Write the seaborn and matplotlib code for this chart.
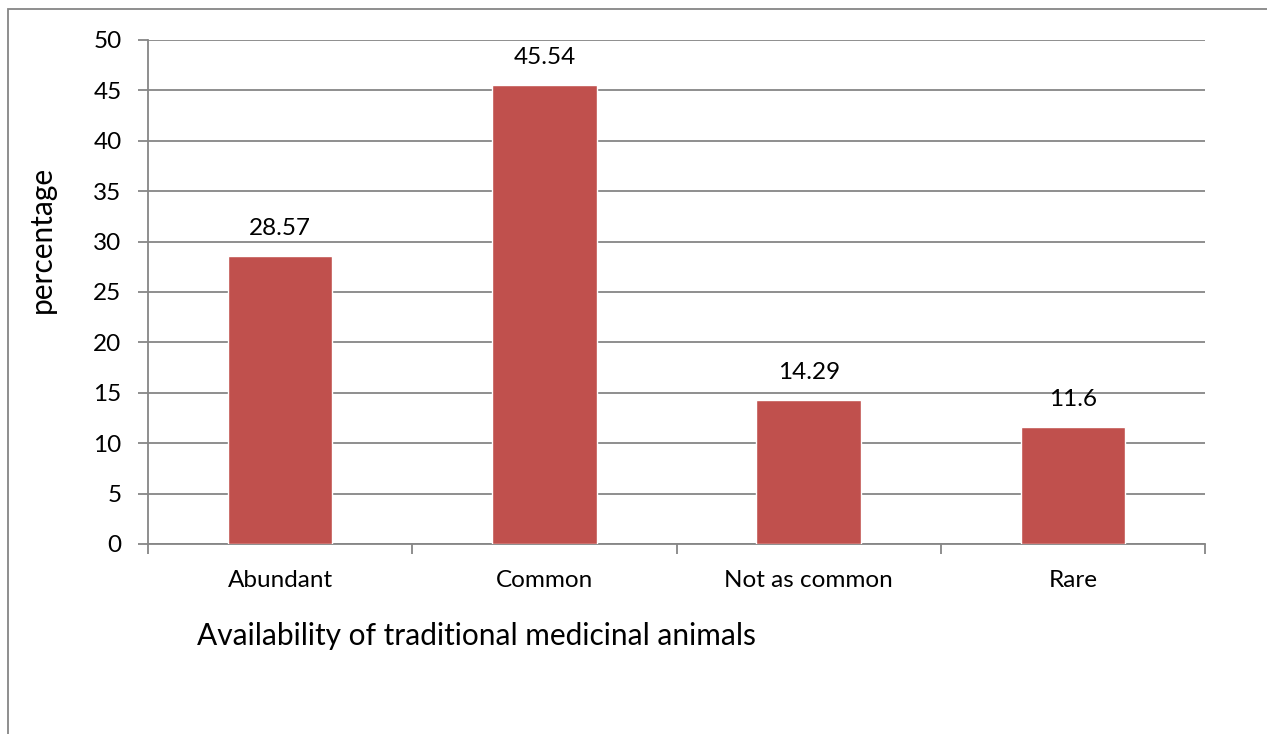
import matplotlib
matplotlib.use("Agg")
import matplotlib.pyplot as plt
import seaborn as sns
import pandas as pd
from matplotlib.patches import Rectangle

categories = ["Abundant", "Common", "Not as common", "Rare"]
values = [28.57, 45.54, 14.29, 11.6]
value_labels = ["28.57", "45.54", "14.29", "11.6"]
y_ticks = [0, 5, 10, 15, 20, 25, 30, 35, 40, 45, 50]

sns.set_theme(style="white")
plt.rcParams['font.family'] = ['Lato', 'DejaVu Sans']

W, H = 1267, 734
fig = plt.figure(figsize=(W / 100, H / 100), dpi=100)
ax = fig.add_axes([148 / W, 1 - 544 / H, (1205 - 148) / W, (544 - 40) / H])

df = pd.DataFrame({"cat": categories, "val": values})
sns.barplot(data=df, x="cat", y="val", color="#C0504D", saturation=1,
            width=0.395, ax=ax, zorder=3)

grid_c = "#868686"
ax.set_ylim(0, 50)
ax.set_xlim(-0.5, 3.5)
ax.set_yticks(y_ticks)
ax.yaxis.grid(True, color=grid_c, linewidth=1.3, zorder=0)
ax.set_axisbelow(True)
for s in ["top", "right"]:
    ax.spines[s].set_visible(False)
for s in ["left", "bottom"]:
    ax.spines[s].set_color(grid_c)
    ax.spines[s].set_linewidth(1.3)

tick_fs = 17.5
# x ticks at category boundaries, labels in between
ax.set_xticks([-0.5, 0.5, 1.5, 2.5, 3.5])
ax.set_xticklabels([])
ax.set_xticks([0, 1, 2, 3], minor=True)
ax.set_xticklabels(categories, minor=True)
ax.tick_params(axis="x", which="major", direction="out", length=7, width=1.3,
               color=grid_c, bottom=True)
ax.tick_params(axis="x", which="minor", length=0, pad=19, labelsize=tick_fs,
               labelcolor="black")
ax.tick_params(axis="y", direction="out", length=7, width=1.3, color=grid_c,
               left=True, labelsize=tick_fs, labelcolor="black", pad=12)

ax.set_xlabel("")
ax.set_ylabel("")
fig.text(42 / W, 1 - 239 / H, "percentage", rotation=90,
         fontsize=21.5, ha="center", va="center", color="black")
fig.text(197 / W, 1 - 636 / H, "Availability of traditional medicinal animals",
         fontsize=21.5, ha="left", va="center", color="black")

for i, (v, lab) in enumerate(zip(values, value_labels)):
    ax.annotate(lab, (i, v), xytext=(0, 19.5), textcoords="offset points",
                ha="center", va="center", fontsize=tick_fs, color="black")

# outer chart border (left and top visible)
fig.patches.append(Rectangle((7.5 / W, -0.05), 1.1, 1 - 8.5 / H + 0.05,
                             transform=fig.transFigure, fill=False,
                             edgecolor="#868686", linewidth=1.3))

fig.savefig("out.png", dpi=100, facecolor="white")
